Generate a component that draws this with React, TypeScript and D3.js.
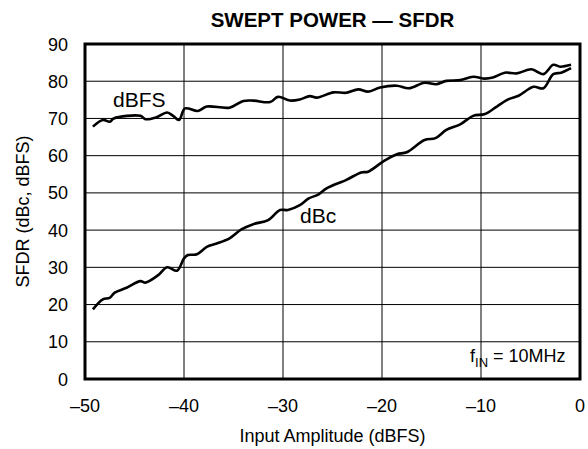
import * as d3 from "d3";
import { useEffect, useRef } from "react";

const dbfsX = [-49.2, -48.2, -47.5, -47.1, -44.4, -43.9, -42.8, -41.7, -41.1, -40.5, -39.9, -38.6, -37.7, -35.4, -34.0, -33.0, -31.3, -30.5, -29.3, -28.3, -27.3, -26.6, -24.9, -23.6, -22.4, -21.4, -20.2, -18.5, -17.3, -15.7, -14.5, -13.5, -12.1, -10.8, -9.6, -8.8, -7.6, -6.4, -4.9, -3.7, -2.7, -2.0, -0.9];
const dbfsY = [67.8, 69.6, 69.1, 70.0, 70.7, 69.8, 70.3, 71.6, 70.7, 69.6, 72.7, 72.0, 73.2, 72.9, 74.7, 74.8, 74.4, 75.8, 74.8, 75.1, 76.0, 75.6, 77.0, 76.9, 77.8, 77.2, 78.3, 78.8, 78.1, 79.6, 79.2, 80.1, 80.3, 81.2, 80.7, 81.0, 82.3, 82.1, 83.2, 81.9, 84.4, 83.9, 84.4];

const dbcX = [-49.2, -48.2, -47.5, -47.0, -45.8, -44.4, -43.9, -42.6, -41.7, -40.7, -40.0, -39.6, -38.7, -37.7, -36.7, -35.4, -34.2, -33.0, -31.5, -30.3, -29.5, -28.3, -27.4, -26.4, -25.6, -23.6, -22.1, -21.4, -19.9, -18.5, -17.5, -15.7, -14.6, -13.5, -12.1, -10.8, -9.6, -8.4, -7.2, -6.2, -4.7, -3.7, -2.7, -1.9, -0.9];
const dbcY = [18.7, 21.4, 21.8, 23.2, 24.5, 26.3, 25.9, 27.9, 30.0, 29.1, 32.4, 33.3, 33.5, 35.5, 36.4, 37.8, 40.2, 41.6, 42.7, 45.4, 45.4, 46.7, 48.5, 49.6, 51.2, 53.5, 55.5, 55.7, 58.4, 60.4, 60.9, 64.2, 64.7, 66.9, 68.4, 70.7, 71.2, 73.2, 75.2, 76.1, 78.5, 78.1, 81.9, 82.3, 83.5];

const xTicks = [-50, -40, -30, -20, -10, 0];
const yTicks = [0, 10, 20, 30, 40, 50, 60, 70, 80, 90];

const W = 588;
const H = 449;
const font = "'Liberation Sans', Arial, Helvetica, sans-serif";

export default function App() {
  const ref = useRef<SVGSVGElement | null>(null);
  useEffect(() => {
    if (!ref.current) return;
    const svg = d3.select(ref.current);
    svg.selectAll("*").remove();
    const left = 85, right = 580, top = 44, bottom = 379;
    const x = d3.scaleLinear().domain([-50, 0]).range([left, right]);
    const y = d3.scaleLinear().domain([0, 90]).range([bottom, top]);

    // grid
    const grid = svg.append("g").attr("stroke", "#000").attr("stroke-width", 1);
    grid.selectAll("line.v")
      .data(xTicks.slice(1, -1))
      .enter()
      .append("line")
      .attr("x1", (d) => x(d))
      .attr("x2", (d) => x(d))
      .attr("y1", top)
      .attr("y2", bottom);
    grid.selectAll("line.h")
      .data(yTicks.slice(1, -1))
      .enter()
      .append("line")
      .attr("x1", left)
      .attr("x2", right)
      .attr("y1", (d) => y(d))
      .attr("y2", (d) => y(d));

    // curves
    const line = d3.line<[number, number]>()
      .x((d) => x(d[0]))
      .y((d) => y(d[1]))
      .curve(d3.curveCatmullRom.alpha(0.5));
    const series = [d3.zip(dbfsX, dbfsY), d3.zip(dbcX, dbcY)] as [number, number][][];
    svg.append("g")
      .selectAll("path")
      .data(series)
      .enter()
      .append("path")
      .attr("d", (d) => line(d))
      .attr("fill", "none")
      .attr("stroke", "#000")
      .attr("stroke-width", 2.6)
      .attr("stroke-linejoin", "round");

    // frame
    svg.append("rect")
      .attr("x", left)
      .attr("y", top)
      .attr("width", right - left)
      .attr("height", bottom - top)
      .attr("fill", "none")
      .attr("stroke", "#000")
      .attr("stroke-width", 3);

    const txt = svg.append("g").attr("font-family", font).attr("fill", "#000");
    txt.selectAll("text.yt")
      .data(yTicks)
      .enter()
      .append("text")
      .attr("x", 68)
      .attr("y", (d) => y(d) + 6.5)
      .attr("text-anchor", "end")
      .attr("font-size", 18)
      .text((d) => String(d));
    txt.selectAll("text.xt")
      .data(xTicks)
      .enter()
      .append("text")
      .attr("x", (d) => x(d))
      .attr("y", 412)
      .attr("text-anchor", "middle")
      .attr("font-size", 18)
      .text((d) => (d < 0 ? "\u2013" + Math.abs(d) : String(d)));

    txt.append("text")
      .attr("x", (left + right) / 2)
      .attr("y", 27)
      .attr("text-anchor", "middle")
      .attr("font-size", 20.5)
      .attr("font-weight", "bold")
      .text("SWEPT POWER \u2014 SFDR");
    txt.append("text")
      .attr("x", (left + right) / 2)
      .attr("y", 442)
      .attr("text-anchor", "middle")
      .attr("font-size", 18)
      .text("Input Amplitude (dBFS)");
    txt.append("text")
      .attr("transform", `translate(29,${(top + bottom) / 2}) rotate(-90)`)
      .attr("text-anchor", "middle")
      .attr("font-size", 18)
      .text("SFDR (dBc, dBFS)");

    txt.append("text").attr("x", 113).attr("y", 107).attr("font-size", 21).text("dBFS");
    txt.append("text").attr("x", 300).attr("y", 223).attr("font-size", 21).text("dBc");
    const fin = txt.append("text").attr("x", 470).attr("y", 362).attr("font-size", 18);
    fin.append("tspan").text("f");
    fin.append("tspan").attr("font-size", 13).attr("dy", 5).text("IN");
    fin.append("tspan").attr("dy", -5).text(" = 10MHz");
  }, []);
  return (
    <svg
      ref={ref}
      width={W}
      height={H}
      viewBox={`0 0 ${W} ${H}`}
      style={{ position: "absolute", left: 0, top: 0, background: "#fff" }}
    />
  );
}
